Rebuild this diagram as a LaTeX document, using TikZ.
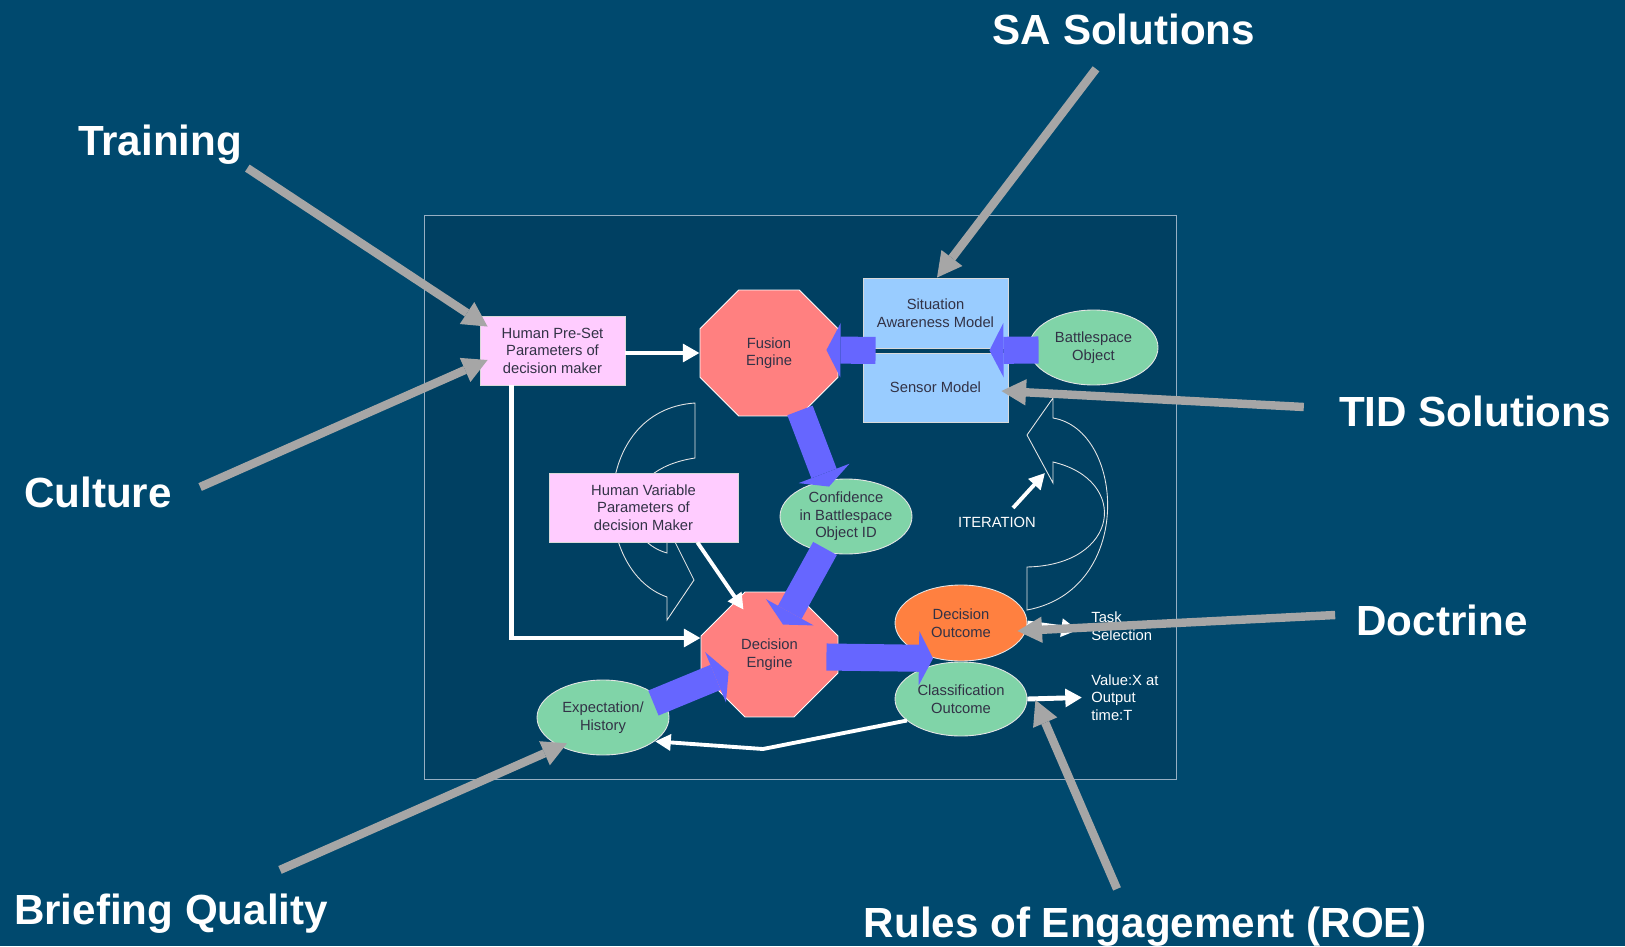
\documentclass[tikz,border=0pt]{standalone}
\usepackage{fontspec}
\setmainfont{Liberation Sans}
\usetikzlibrary{arrows.meta, positioning, shapes.geometric, shapes.misc, calc}

\definecolor{slidebg}{RGB}{0,73,110}
\definecolor{framebg}{RGB}{0,64,98}
\definecolor{framestroke}{RGB}{150,175,195}
\definecolor{nodetext}{RGB}{50,50,70}
\definecolor{parampink}{RGB}{255,204,255}
\definecolor{modelblue}{RGB}{153,204,255}
\definecolor{enginered}{RGB}{255,128,128}
\definecolor{ovalgreen}{RGB}{128,212,168}
\definecolor{outorange}{RGB}{255,128,64}
\definecolor{blockblue}{RGB}{102,102,255}
\definecolor{pointgrey}{RGB}{166,166,166}

\begin{document}
\begin{tikzpicture}[x=0.02cm, y=-0.02cm,
    every node/.style={font=\fontsize{8.4}{10}\selectfont, text=nodetext, align=center},
    parambox/.style={rectangle, draw=white!85!black, line width=0.5pt, fill=parampink, minimum height=1.38cm, inner sep=0pt},
    modelbox/.style={rectangle, draw=white!85!black, line width=0.5pt, fill=modelblue, minimum width=2.9cm, inner sep=0pt},
    engine/.style={chamfered rectangle, chamfered rectangle xsep=0.73cm, chamfered rectangle ysep=0.73cm, draw=white, line width=0.5pt, fill=enginered, minimum width=2.76cm, minimum height=2.52cm, inner sep=0pt},
    oval/.style={ellipse, draw=white!90!black, line width=0.5pt, fill=ovalgreen, minimum width=2.64cm, minimum height=1.5cm, inner sep=0pt},
    note/.style={text=white, align=left, inner sep=0pt},
    tag/.style={text=white, font=\fontsize{24}{28}\selectfont\bfseries, inner sep=0pt},
    flow/.style={draw=white, line width=2.8pt, -{Triangle[length=9.5pt,width=10pt]}},
    thinflow/.style={draw=white, line width=2.2pt, -{Triangle[length=9pt,width=9pt]}},
    bigarrow/.style={draw=blockblue, line width=15.4pt, -{Triangle[length=8pt,width=31pt,line width=0pt]}},
    pointer/.style={draw=pointgrey, line width=4.8pt, -{Triangle[length=14pt,width=15pt,line width=0pt]}},
    curl/.style={draw=white!90!black, line width=0.5pt}]
    \useasboundingbox (0,0) rectangle (1625,946);
    \fill[slidebg] (0,0) rectangle (1625,946);

    % Model frame
    \draw[draw=framestroke, fill=framebg, line width=0.5pt] (424,215) rectangle (1176,779);

    % Curved arrows
    \draw[curl] (695,403) -- (695,458) .. controls (615,470) and (620,540) .. (667,553)
        -- (667,526) -- (694,580) -- (667,620) -- (667,597)
        .. controls (590,570) and (590,410) .. (695,403) -- cycle;
    \draw[curl] (1053,398) -- (1053,418) .. controls (1125,430) and (1135,590) .. (1027,610)
        -- (1027,567) .. controls (1120,565) and (1130,480) .. (1053,462)
        -- (1053,483) -- (1027,435) -- cycle;

    % Human parameters
    \node[parambox, minimum width=2.9cm] (preset) at (552.5,350.5) {Human Pre-Set\\Parameters of\\decision maker};
    \node[parambox, minimum width=3.78cm] (variable) at (643.5,507.5) {Human Variable\\Parameters of\\decision Maker};

    % SA and sensor models
    \node[modelbox, minimum height=1.4cm] (sa) at (935.5,313) {Situation\\Awareness Model};
    \node[modelbox, minimum height=1.38cm] (sensor) at (935.5,387.5) {Sensor Model};

    % Engines
    \node[engine] (fusion) at (769,353) {Fusion\\Engine};
    \node[engine, minimum width=2.74cm, minimum height=2.5cm] (decision) at (769.5,654.5) {Decision\\Engine};

    % Ovals
    \node[oval, minimum width=2.58cm] (battle) at (1093.5,347.5) {Battlespace\\Object};
    \node[oval] (conf) at (846,516.5) {Confidence\\in Battlespace\\Object ID};
    \node[oval] (expect) at (603,717.5) {Expectation/\\History};
    \node[oval, fill=outorange, minimum height=1.52cm] (decout) at (961,623) {Decision\\Outcome};
    \node[oval, minimum height=1.48cm] (classout) at (961,699) {Classification\\Outcome};

    % Outputs
    \node[note, anchor=west] (task) at (1091,626.5) {Task\\Selection};
    \node[note, anchor=west] (value) at (1091,697.5) {Value:X at\\Output\\time:T};
    \node[note] (iteration) at (997,522) {ITERATION};

    % White flows
    \draw[flow] (preset.east |- fusion.west) -- (fusion.west);
    \draw[flow] ($(preset.south west)+(32,0)$) |- ($(decision.west)+(0,-16.5)$);
    \draw[thinflow] ($(variable.south east)+(-41,0)$) -- ($(decision.north)+(-26,18)$);
    \coordinate (bend) at (763,749);
    \draw[thinflow] ($(classout.south west)+(-7,-5)$) -- (bend) -- ($(expect.south east)+(5,-3)$);
    \draw[flow] (classout.east) -- ($(value.west)+(-9,0)$);
    \draw[flow] (decout.east) -- ($(task.west)+(-13,3.5)$);
    \draw[thinflow] ($(iteration.north)+(16,-8.5)$) -- ++(32,-35);

    % Block arrows
    \draw[bigarrow] ($(battle.west)+(10,2.5)$) -- ($(sa.south east)+(-19,2)$);
    \draw[bigarrow] ($(sa.south west)+(13,2)$) -- ($(fusion.east)+(-12,-3)$);
    \draw[bigarrow] ($(fusion.south)+(31,-6)$) -- ($(conf.north)+(-17,8)$);
    \draw[bigarrow] ($(conf.south)+(-21,-6)$) -- ($(decision.north)+(13.5,33)$);
    \draw[bigarrow] ($(expect.east)+(-16,-14.5)$) -- ($(decision.west)+(28,17.5)$);
    \draw[bigarrow] ($(decision.east)+(-12,2.5)$) -- ($(decout.south)+(-28,-3)$);

    % Influences
    \node[tag] (training) at (160,145) {Training};
    \node[tag] (culture) at (98,492) {Culture};
    \node[tag] (sasol) at (1124,29) {SA Solutions};
    \node[tag] (tidsol) at (1475,411) {TID Solutions};
    \node[tag] (doctrine) at (1442,620) {Doctrine};
    \node[tag] (briefing) at (171,914) {Briefing Quality};
    \node[tag] (roe) at (1145,927) {Rules of Engagement (ROE)};

    \draw[pointer] ($(training.south east)+(5,3)$) -- ($(preset.north west)+(8,11)$);
    \draw[pointer] ($(culture.east)+(28,-5)$) -- ($(preset.west)+(8,9.5)$);
    \draw[pointer] ($(sasol.south)+(-28,24)$) -- ($(sa.north)+(1.5,0)$);
    \draw[pointer] ($(tidsol.west)+(-35,-4)$) -- ($(sensor.east)+(-7,3.5)$);
    \draw[pointer] ($(doctrine.west)+(-21,-5)$) -- ($(decout.east)+(-10,8)$);
    \draw[pointer] ($(briefing.north)+(109,-24)$) -- ($(expect.south west)+(11,-1)$);
    \draw[pointer] ($(roe.north)+(-28,-18)$) -- ($(classout.east)+(8,1)$);
\end{tikzpicture}
\end{document}
